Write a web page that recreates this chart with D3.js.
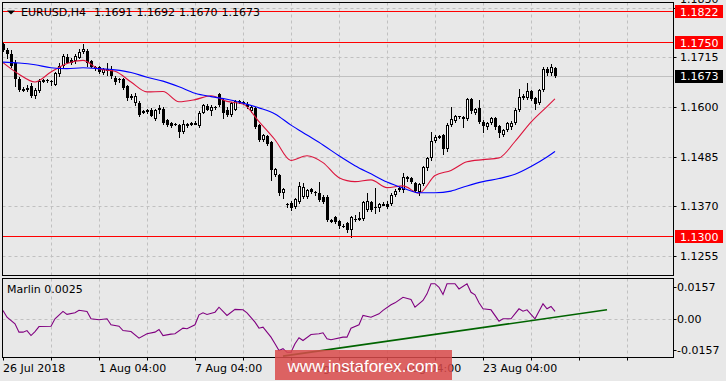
<!DOCTYPE html>
<html><head><meta charset="utf-8">
<script src="https://cdn.jsdelivr.net/npm/d3@7"></script>
<style>
html,body{margin:0;padding:0;background:#e8e8e8;}
svg{display:block;}
text{font-family:"DejaVu Sans",sans-serif;font-size:11px;fill:#000;}
</style></head><body>
<svg id="c" width="726" height="381"></svg>
<script>
// ---- data ----
const opens=[1.1746,1.1733,1.1722,1.1703,1.1666,1.1640,1.1642,1.1648,1.1626,1.1636,1.1660,1.1662,1.1661,1.1652,1.1676,1.1695,1.1716,1.1708,1.1706,1.1714,1.1727,1.1730,1.1706,1.1692,1.1692,1.1678,1.1687,1.1689,1.1668,1.1664,1.1664,1.1648,1.1626,1.1609,1.1610,1.1587,1.1590,1.1594,1.1572,1.1596,1.1596,1.1569,1.1564,1.1561,1.1559,1.1541,1.1561,1.1561,1.1562,1.1555,1.1587,1.1603,1.1590,1.1601,1.1629,1.1617,1.1594,1.1582,1.1594,1.1613,1.1612,1.1607,1.1591,1.1598,1.1559,1.1524,1.1533,1.1518,1.1442,1.1442,1.1400,1.1374,1.1378,1.1368,1.1380,1.1392,1.1392,1.1410,1.1403,1.1401,1.1392,1.1392,1.1337,1.1345,1.1336,1.1325,1.1330,1.1314,1.1341,1.1341,1.1341,1.1362,1.1380,1.1368,1.1365,1.1375,1.1376,1.1376,1.1396,1.1410,1.1407,1.1438,1.1435,1.1424,1.1403,1.1421,1.1458,1.1481,1.1522,1.1531,1.1535,1.1502,1.1559,1.1568,1.1578,1.1576,1.1572,1.1619,1.1587,1.1598,1.1566,1.1553,1.1564,1.1574,1.1555,1.1535,1.1547,1.1553,1.1563,1.1594,1.1626,1.1621,1.1636,1.1621,1.1609,1.1639,1.1689,1.1678,1.1691];
const highs=[1.1748,1.1737,1.1733,1.1708,1.1670,1.1647,1.1650,1.1656,1.1645,1.1664,1.1665,1.1666,1.1663,1.1682,1.1701,1.1722,1.1722,1.1713,1.1722,1.1734,1.1747,1.1734,1.1710,1.1695,1.1696,1.1690,1.1703,1.1695,1.1673,1.1667,1.1667,1.1652,1.1630,1.1633,1.1614,1.1594,1.1595,1.1597,1.1596,1.1605,1.1599,1.1571,1.1566,1.1563,1.1561,1.1569,1.1564,1.1565,1.1567,1.1590,1.1608,1.1606,1.1604,1.1603,1.1632,1.1622,1.1599,1.1612,1.1617,1.1617,1.1614,1.1612,1.1603,1.1601,1.1561,1.1538,1.1536,1.1521,1.1459,1.1445,1.1413,1.1378,1.1381,1.1389,1.1427,1.1424,1.1410,1.1413,1.1406,1.1427,1.1396,1.1395,1.1341,1.1348,1.1339,1.1328,1.1333,1.1348,1.1350,1.1356,1.1383,1.1400,1.1383,1.1412,1.1378,1.1379,1.1381,1.1400,1.1409,1.1415,1.1446,1.1441,1.1438,1.1427,1.1424,1.1463,1.1484,1.1543,1.1534,1.1536,1.1538,1.1562,1.1601,1.1581,1.1580,1.1580,1.1622,1.1622,1.1598,1.1617,1.1569,1.1566,1.1577,1.1577,1.1558,1.1550,1.1566,1.1567,1.1597,1.1642,1.1629,1.1656,1.1639,1.1624,1.1642,1.1692,1.1692,1.1699,1.1692];
const lows=[1.1729,1.1714,1.1692,1.1648,1.1638,1.1636,1.1638,1.1623,1.1621,1.1635,1.1657,1.1657,1.1652,1.1650,1.1673,1.1692,1.1701,1.1700,1.1703,1.1713,1.1726,1.1696,1.1692,1.1686,1.1678,1.1676,1.1675,1.1668,1.1654,1.1658,1.1642,1.1617,1.1618,1.1605,1.1580,1.1585,1.1587,1.1578,1.1570,1.1586,1.1561,1.1557,1.1553,1.1558,1.1531,1.1539,1.1554,1.1558,1.1560,1.1553,1.1585,1.1592,1.1582,1.1596,1.1603,1.1575,1.1579,1.1580,1.1592,1.1609,1.1606,1.1598,1.1589,1.1552,1.1520,1.1521,1.1512,1.1431,1.1440,1.1397,1.1389,1.1368,1.1362,1.1365,1.1377,1.1389,1.1388,1.1400,1.1397,1.1381,1.1378,1.1335,1.1334,1.1330,1.1320,1.1321,1.1310,1.1299,1.1336,1.1338,1.1338,1.1359,1.1359,1.1354,1.1360,1.1372,1.1365,1.1373,1.1393,1.1405,1.1404,1.1429,1.1424,1.1403,1.1396,1.1418,1.1455,1.1478,1.1519,1.1528,1.1491,1.1499,1.1556,1.1565,1.1574,1.1553,1.1569,1.1587,1.1584,1.1564,1.1541,1.1550,1.1561,1.1550,1.1530,1.1532,1.1544,1.1550,1.1560,1.1591,1.1618,1.1618,1.1616,1.1595,1.1606,1.1636,1.1675,1.1675,1.1670];
const closes=[1.1732,1.1722,1.1695,1.1664,1.1640,1.1642,1.1644,1.1625,1.1640,1.1660,1.1662,1.1661,1.1659,1.1678,1.1695,1.1718,1.1703,1.1703,1.1718,1.1727,1.1734,1.1703,1.1693,1.1690,1.1680,1.1687,1.1688,1.1671,1.1657,1.1663,1.1644,1.1621,1.1622,1.1626,1.1582,1.1591,1.1592,1.1580,1.1594,1.1598,1.1563,1.1559,1.1555,1.1560,1.1541,1.1561,1.1557,1.1562,1.1564,1.1587,1.1605,1.1594,1.1601,1.1600,1.1605,1.1586,1.1582,1.1609,1.1613,1.1612,1.1609,1.1600,1.1599,1.1554,1.1524,1.1535,1.1514,1.1454,1.1456,1.1400,1.1410,1.1372,1.1365,1.1386,1.1417,1.1415,1.1407,1.1403,1.1401,1.1384,1.1380,1.1337,1.1338,1.1333,1.1323,1.1324,1.1314,1.1345,1.1340,1.1343,1.1380,1.1382,1.1362,1.1367,1.1375,1.1376,1.1368,1.1396,1.1406,1.1412,1.1438,1.1432,1.1427,1.1406,1.1421,1.1460,1.1481,1.1521,1.1531,1.1533,1.1502,1.1559,1.1572,1.1578,1.1577,1.1577,1.1619,1.1590,1.1595,1.1566,1.1555,1.1563,1.1574,1.1553,1.1539,1.1547,1.1563,1.1564,1.1594,1.1623,1.1621,1.1636,1.1619,1.1608,1.1639,1.1689,1.1678,1.1693,1.1673];
const maBars=[0,4,8,12,16,20,24,28,32,36,40,44,48,52,56,60,64,68,72,76,80,84,88,92,96,100,104,108,112,116,120,124,128,132,136,138];
const redMA=[1.1703,1.1676,1.1658,1.1681,1.1701,1.1708,1.1688,1.1683,1.1658,1.1635,1.1636,1.1612,1.1617,1.1626,1.1613,1.1607,1.1566,1.1524,1.1476,1.1487,1.1471,1.1436,1.1427,1.1431,1.1413,1.1417,1.1400,1.1441,1.1453,1.1473,1.1478,1.1482,1.1520,1.1565,1.1601,1.1619];
const blueMA=[1.1704,1.1702,1.1698,1.1691,1.1689,1.1691,1.1689,1.1686,1.1680,1.1669,1.1660,1.1647,1.1632,1.1624,1.1618,1.1609,1.1598,1.1584,1.1558,1.1535,1.1512,1.1487,1.1464,1.1445,1.1426,1.1412,1.1401,1.1401,1.1405,1.1417,1.1427,1.1434,1.1444,1.1462,1.1484,1.1497];
const marlinBars=[0,1,3,4,5,6,7,8,9,12,13,15,16,18,19,21,22,24,26,27,29,30,32,34,36,38,39,40,42,43,45,46,48,49,50,51,53,54,56,58,60,61,63,64,65,67,68,69,70,71,72,73,74,75,77,79,80,81,82,85,86,87,89,90,92,94,95,97,98,100,102,103,105,106,107,108,109,110,111,113,114,116,117,118,119,120,122,124,125,127,129,130,131,133,135,136,137,138];
const marlinVals=[0.0042,0.0008,-0.0025,-0.0067,-0.0067,-0.0059,-0.0084,-0.0064,-0.0039,-0.0037,0.0000,0.0037,0.0022,0.0030,0.0043,0.0037,0.0000,-0.0005,0.0000,-0.0030,-0.0037,-0.0059,-0.0064,-0.0097,-0.0075,-0.0067,-0.0054,-0.0084,-0.0077,-0.0075,-0.0047,-0.0050,-0.0030,0.0020,0.0030,0.0022,0.0033,0.0058,0.0017,0.0047,0.0045,0.0030,-0.0017,-0.0047,-0.0042,-0.0092,-0.0125,-0.0159,-0.0150,-0.0168,-0.0168,-0.0125,-0.0095,-0.0109,-0.0079,-0.0075,-0.0070,-0.0100,-0.0105,-0.0092,-0.0092,-0.0047,-0.0030,0.0017,0.0008,0.0025,0.0042,0.0070,0.0080,0.0108,0.0097,0.0058,0.0092,0.0125,0.0176,0.0176,0.0158,0.0122,0.0176,0.0176,0.0150,0.0176,0.0133,0.0120,0.0080,0.0050,0.0045,-0.0012,0.0000,0.0000,0.0050,0.0038,0.0045,0.0000,0.0075,0.0050,0.0062,0.0037];
const trendBars=[70,151];
const trendVals=[-0.0187,0.0045];
const priceTicks=[1.1830,1.1715,1.1600,1.1485,1.1370,1.1255];
const levelLines=[1.1822,1.1750,1.1300];
const bidPrice=1.1673;
const oscTicks=[0.0157,0,-0.0157];
const oscLabels=["0.0157","0.00","-0.0157"];
const timeLabelBars=[0,24,48,72,96,120];
const timeLabels=["26 Jul 2018","1 Aug 04:00","7 Aug 04:00","13 Aug 04:00","17 Aug 04:00","23 Aug 04:00"];
const gridBars=d3.range(12,157,12);
const headerSymbol="EURUSD,H4";
const headerValues=["1.1691","1.1692","1.1670","1.1673"];
const indicatorName="Marlin 0.0025";
const watermark="www.instaforex.com";

// ---- layout ----
const L=2.5,R=673.5,T=2.5,MB=275.5,IT=278.5,IB=357.5;
const svg=d3.select("#c");
svg.append("rect").attr("width",726).attr("height",381).attr("fill","#e8e8e8");
const x=d3.scaleLinear().domain([0,138]).range([3,555]);
const y=d3.scaleLinear().domain([1.120929,1.184228]).range([MB,T]);
const yo=d3.scaleLinear().domain([-0.01941,0.02021]).range([IB,IT]);
const gridCol="#c0c0c0";

const defs=svg.append("defs");
defs.append("clipPath").attr("id","cm").append("rect").attr("x",L).attr("y",T).attr("width",R-L).attr("height",MB-T);
defs.append("clipPath").attr("id","ci").append("rect").attr("x",L).attr("y",IT).attr("width",R-L).attr("height",IB-IT);
defs.append("clipPath").attr("id","ca").append("rect").attr("x",R).attr("y",0).attr("width",726-R).attr("height",381);

const gm=svg.append("g").attr("clip-path","url(#cm)");
const gi=svg.append("g").attr("clip-path","url(#ci)");

// grids
gridBars.forEach(b=>{
  const xx=Math.round(x(b))+0.5;
  gm.append("line").attr("x1",xx).attr("x2",xx).attr("y1",T).attr("y2",MB).attr("stroke",gridCol).attr("stroke-dasharray","3,3");
  gi.append("line").attr("x1",xx).attr("x2",xx).attr("y1",IT).attr("y2",IB).attr("stroke",gridCol).attr("stroke-dasharray","3,3");
});
priceTicks.forEach(p=>{
  const yy=Math.round(y(p))+0.5;
  gm.append("line").attr("x1",L).attr("x2",R).attr("y1",yy).attr("y2",yy).attr("stroke",gridCol).attr("stroke-dasharray","3,3");
});
{
  const yy=Math.round(yo(0))+0.5;
  gi.append("line").attr("x1",L).attr("x2",R).attr("y1",yy).attr("y2",yy).attr("stroke",gridCol).attr("stroke-dasharray","3,3");
}
{
  const yy=Math.round(y(bidPrice))+0.5;
  gm.append("line").attr("x1",L).attr("x2",R).attr("y1",yy).attr("y2",yy).attr("stroke","#c0c0c0");
}

// candles
const cg=gm.append("g").attr("shape-rendering","crispEdges");
closes.forEach((c,i)=>{
  const o=opens[i],h=highs[i],l=lows[i];
  const cx=Math.round(x(i));
  cg.append("line").attr("x1",cx+0.5).attr("x2",cx+0.5).attr("y1",Math.round(y(h))).attr("y2",Math.round(y(l))+1).attr("stroke","#000");
  const top=Math.round(y(Math.max(o,c))), bot=Math.round(y(Math.min(o,c)));
  const hgt=Math.max(bot-top,1);
  if(c>=o){
    cg.append("rect").attr("x",cx-1+0.5).attr("y",top+0.5).attr("width",2).attr("height",Math.max(hgt-1,1)).attr("fill","#fff").attr("stroke","#000");
  } else {
    cg.append("rect").attr("x",cx-1).attr("y",top).attr("width",3).attr("height",hgt).attr("fill","#000");
  }
});

// MAs
const line=d3.line().curve(d3.curveMonotoneX).x(d=>x(d[0])).y(d=>y(d[1]));
gm.append("path").attr("d",line(maBars.map((b,i)=>[b,redMA[i]]))).attr("fill","none").attr("stroke","#dc143c").attr("stroke-width",1.1);
gm.append("path").attr("d",line(maBars.map((b,i)=>[b,blueMA[i]]))).attr("fill","none").attr("stroke","#0000ff").attr("stroke-width",1.1);

levelLines.forEach(p=>{
  const yy=Math.round(y(p))+0.5;
  gm.append("line").attr("x1",L).attr("x2",R).attr("y1",yy).attr("y2",yy).attr("stroke","#ff0000");
});

// oscillator
const oline=d3.line().x(d=>x(d[0])).y(d=>yo(d[1]));
gi.append("path").attr("d",oline(marlinBars.map((b,i)=>[b,marlinVals[i]]))).attr("fill","none").attr("stroke","#800080").attr("stroke-width",1.1);
gi.append("path").attr("d",oline(trendBars.map((b,i)=>[b,trendVals[i]]))).attr("fill","none").attr("stroke","#006400").attr("stroke-width",1.6);

// frames
const fr=svg.append("g").attr("fill","none").attr("stroke","#000").attr("shape-rendering","crispEdges");
fr.append("rect").attr("x",L).attr("y",T).attr("width",R-L).attr("height",MB-T);
fr.append("rect").attr("x",L).attr("y",IT).attr("width",R-L).attr("height",IB-IT);

// right axis price labels
const tagTops=levelLines.concat([bidPrice]).map(p=>Math.round(y(p))-6);
const ga=svg.append("g").attr("clip-path","url(#ca)");
priceTicks.forEach(p=>{
  const yy=Math.round(y(p))+0.5;
  ga.append("line").attr("x1",R).attr("x2",R+3).attr("y1",yy).attr("y2",yy).attr("stroke","#000");
  let base=y(p)+4;
  tagTops.forEach(t=>{ if(base>t && base-9<t+13) base=t-2; });
  ga.append("text").attr("x",680).attr("y",base).text(p.toFixed(4));
});
function tag(p,col){
  const yy=y(p);
  ga.append("rect").attr("x",675).attr("y",Math.round(yy)-6).attr("width",48).attr("height",13).attr("fill",col);
  ga.append("text").attr("x",680).attr("y",yy+4.5).style("fill","#fff").text(p.toFixed(4));
}
levelLines.forEach(p=>tag(p,"#ff0000"));
tag(bidPrice,"#000");

oscTicks.forEach((v,i)=>{
  const yy=Math.round(yo(v))+0.5;
  svg.append("line").attr("x1",R).attr("x2",R+3).attr("y1",yy).attr("y2",yy).attr("stroke","#000");
  svg.append("text").attr("x",677).attr("y",yo(v)+4).text(oscLabels[i]);
});

// time axis
gridBars.concat([0]).forEach(b=>{
  const xx=Math.round(x(b))+0.5;
  svg.append("line").attr("x1",xx).attr("x2",xx).attr("y1",IB).attr("y2",IB+3).attr("stroke","#000");
});
timeLabelBars.forEach((b,i)=>{
  svg.append("text").attr("x",x(b)).attr("y",372).text(timeLabels[i]);
});

// header
svg.append("path").attr("d","M7,10.5 L15,10.5 L11,14.5 Z").attr("fill","#000");
svg.append("text").attr("x",21).attr("y",16).text(headerSymbol);
headerValues.forEach((v,i)=>svg.append("text").attr("x",94+i*42.5).attr("y",16).text(v));
svg.append("text").attr("x",7).attr("y",293).text(indicatorName);

// watermark
svg.append("rect").attr("x",275).attr("y",350).attr("width",177).attr("height",30).attr("fill","#d94a4a").attr("opacity",0.85);
svg.append("text").attr("x",363).attr("y",372).attr("text-anchor","middle").style("font-family","'Liberation Sans',Arial,sans-serif").style("font-size","17px").style("fill","#fff").text(watermark);
</script>
</body></html>
